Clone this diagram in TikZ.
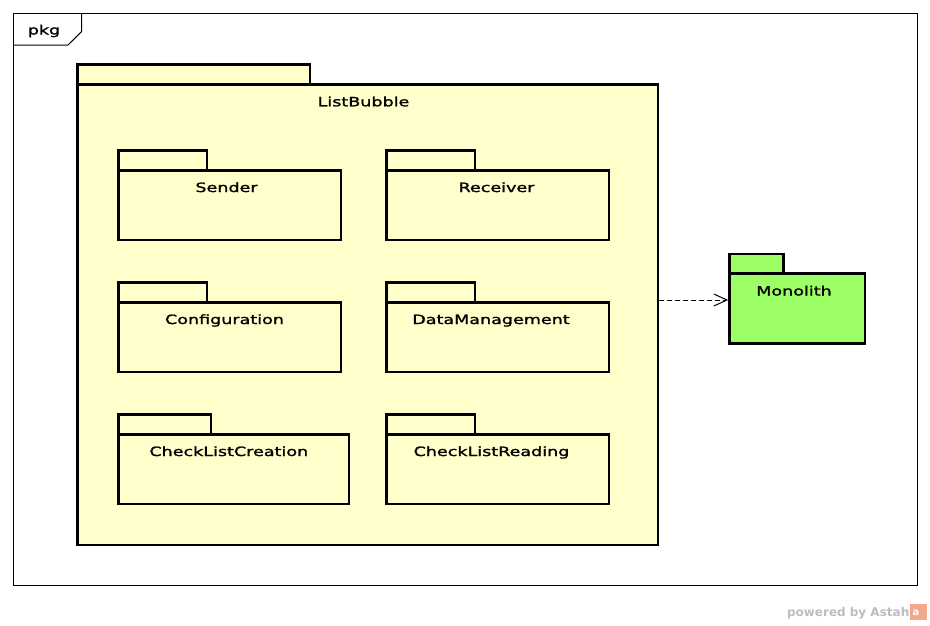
\documentclass[tikz,border=0pt]{standalone}
\usepackage{fontspec}
\newfontfamily\umlfont[FakeStretch=1.37,FakeBold=1.6]{DejaVu Sans}
\newfontfamily\wmfont{DejaVu Sans}
\usetikzlibrary{arrows.meta}
\definecolor{pkgyellow}{HTML}{FFFFCC}
\definecolor{pkggreen}{HTML}{9CFF66}
\definecolor{wmgray}{HTML}{BDBDBD}
\definecolor{wmorange}{HTML}{F2A88A}
\tikzset{
  pkgbox/.style={draw=black, line width=2.8pt, fill=pkgyellow, inner sep=0pt, outer sep=0pt, anchor=north west},
  pkgtab/.style={draw=black, line width=2.8pt, fill=pkgyellow},
  lbl/.style={font=\umlfont\fontsize{12.8}{14}\selectfont, anchor=base, inner sep=0pt},
  framebox/.style={draw=black, line width=1pt},
  depline/.style={draw=black, line width=1pt, dash pattern=on 5pt off 3pt, -{Straight Barb[length=13pt,width=12pt,line width=1pt]}}
}
\begin{document}
\begin{tikzpicture}[x=1pt,y=-1pt]
\useasboundingbox (0,0) rectangle (930,625);
\fill[white] (0,0) rectangle (930,625);

% frame
\draw[framebox] (13.5,13.5) rectangle (917,585.5);
\draw[framebox] (13.5,45) -- (68,45) -- (81.7,31.5) -- (81.7,13.5);
\node[lbl] (pkg) at (44,34.5) {pkg};

% ListBubble
\node[pkgbox, minimum width=580.5pt, minimum height=460.5pt] (listbubble) at (77.5,84.5) {};
\draw[pkgtab] (listbubble.north west) rectangle ++(232.5,-20);
\node[lbl] (listbubbleL) at (363.5,106.3) {ListBubble};

% Sender
\node[pkgbox, minimum width=222.5pt, minimum height=69.5pt] (sender) at (118.5,170.5) {};
\draw[pkgtab] (sender.north west) rectangle ++(88.5,-20);
\node[lbl] (senderL) at (226.5,192) {Sender};

% Receiver
\node[pkgbox, minimum width=222.5pt, minimum height=69.5pt] (receiver) at (386.5,170.5) {};
\draw[pkgtab] (receiver.north west) rectangle ++(88.5,-20);
\node[lbl] (receiverL) at (496.5,192) {Receiver};

% Configuration
\node[pkgbox, minimum width=222.5pt, minimum height=69.5pt] (configuration) at (118.5,302.5) {};
\draw[pkgtab] (configuration.north west) rectangle ++(88.5,-20);
\node[lbl] (configurationL) at (224.5,324) {Configuration};

% DataManagement
\node[pkgbox, minimum width=222.5pt, minimum height=69.5pt] (datamanagement) at (386.5,302.5) {};
\draw[pkgtab] (datamanagement.north west) rectangle ++(88.5,-20);
\node[lbl] (datamanagementL) at (491,324) {DataManagement};

% CheckListCreation
\node[pkgbox, minimum width=230.5pt, minimum height=69.5pt] (creation) at (118.5,434.5) {};
\draw[pkgtab] (creation.north west) rectangle ++(92.5,-20);
\node[lbl] (creationL) at (228.8,456) {CheckListCreation};

% CheckListReading
\node[pkgbox, minimum width=222.5pt, minimum height=69.5pt] (reading) at (386.5,434.5) {};
\draw[pkgtab] (reading.north west) rectangle ++(88.5,-20);
\node[lbl] (readingL) at (491.5,456) {CheckListReading};

% Monolith
\node[pkgbox, fill=pkggreen, minimum width=135.5pt, minimum height=70pt] (monolith) at (729.5,273.5) {};
\draw[pkgtab, fill=pkggreen] (monolith.north west) rectangle ++(54,-19.5);
\node[lbl] (monolithL) at (794,295.5) {Monolith};

% dependency
\coordinate (depS) at ([xshift=1.4pt]listbubble.east |- 0,300);
\coordinate (depE) at ([xshift=-1.4pt]monolith.west |- 0,300);
\draw[depline] (depS) -- (depE);

% watermark
\node[font=\wmfont\bfseries\fontsize{12}{14}\selectfont, text=wmgray, anchor=base east, inner sep=0pt] (wm) at (909.5,616) {powered by Astah};
\fill[wmorange] (910,604) rectangle (927,620);
\node[font=\wmfont\bfseries\fontsize{10}{12}\selectfont, text=white, inner sep=0pt] (wmlogo) at (916,613) {a};
\end{tikzpicture}
\end{document}
